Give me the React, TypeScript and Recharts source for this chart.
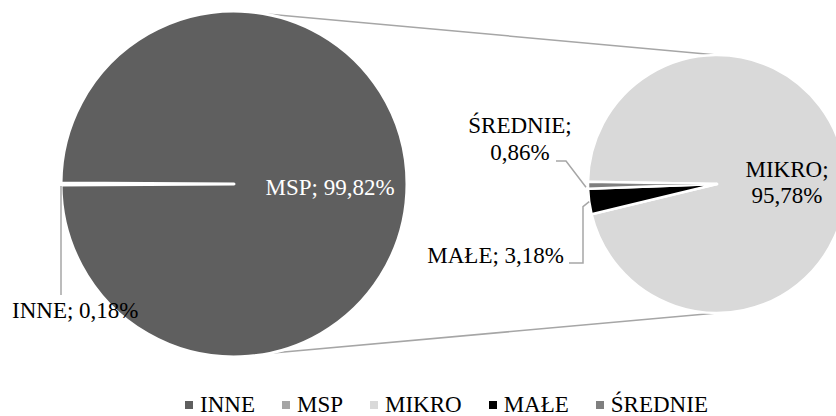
import { PieChart, Pie, Cell, Legend, Customized } from "recharts";

// left pie: INNE vs MSP, right pie: MSP broken down
const INNER_NAMES = ["INNE", "MSP"];
const INNER_VALUES = [0.18, 99.82];
const INNER_COLORS = ["#5f5f5f", "#5f5f5f"];

const DETAIL_NAMES = ["MIKRO", "MAŁE", "ŚREDNIE"];
const DETAIL_VALUES = [95.78, 3.18, 0.86];
const DETAIL_COLORS = ["#d9d9d9", "#000000", "#7f7f7f"];

const LEGEND_NAMES = ["INNE", "MSP", "MIKRO", "MAŁE", "ŚREDNIE"];
const LEGEND_COLORS = ["#5f5f5f", "#a5a5a5", "#d9d9d9", "#000000", "#7f7f7f"];

const W = 836;
const H = 416;
const LEFT = { cx: 234, cy: 184, r: 173 };
const RIGHT = { cx: 717, cy: 184, r: 129 };
const FONT = "'Liberation Serif', 'Times New Roman', serif";
const FS = 23;
const LEADER = "#a6a6a6";

const innerData = INNER_NAMES.map((name, i) => ({ name, value: INNER_VALUES[i] }));
const detailData = DETAIL_NAMES.map((name, i) => ({ name, value: DETAIL_VALUES[i] }));

const RAD = Math.PI / 180;
const edge = (cx: number, cy: number, r: number, a: number) => [
  cx + r * Math.cos(-a * RAD),
  cy + r * Math.sin(-a * RAD),
];
const fmt = (v: number) => v.toFixed(2).replace(".", ",") + "%";
const txt = { fontFamily: FONT, fontSize: FS };

const innerLabel = (p: any) => {
  const { cx, cy, outerRadius: r, midAngle, index } = p;
  const name = INNER_NAMES[index];
  const value = INNER_VALUES[index];
  if (name === "MSP") {
    return (
      <text x={cx + r * 0.555} y={cy + 11} textAnchor="middle" fill="#ffffff" style={txt}>
        {`${name}; ${fmt(value)}`}
      </text>
    );
  }
  const [ex, ey] = edge(cx, cy, r, midAngle);
  return (
    <g>
      <path d={`M${ex},${ey + 2}L${ex},${cy + 111}`} stroke={LEADER} strokeWidth={1.5} fill="none" />
      <text x={ex - 49} y={cy + 134} fill="#000" style={txt}>
        {`${name}; ${fmt(value)}`}
      </text>
    </g>
  );
};

const detailLabel = (p: any) => {
  const { cx, cy, outerRadius: r, midAngle, index } = p;
  const name = DETAIL_NAMES[index];
  const value = DETAIL_VALUES[index];
  const [ex, ey] = edge(cx, cy, r, midAngle);
  if (name === "MIKRO") {
    return (
      <text x={cx + 70} y={cy - 7} textAnchor="middle" fill="#000" style={txt}>
        <tspan x={cx + 70}>{`${name};`}</tspan>
        <tspan x={cx + 70} dy={26}>{fmt(value)}</tspan>
      </text>
    );
  }
  if (name === "MAŁE") {
    return (
      <g>
        <path
          d={`M${ex},${ey}L${cx - 134},${ey + 5}L${cx - 134},${cy + 79}L${cx - 148},${cy + 79}`}
          stroke={LEADER}
          strokeWidth={1.5}
          fill="none"
        />
        <text x={cx - 153} y={cy + 79} textAnchor="end" fill="#000" style={txt}>
          {`${name}; ${fmt(value)}`}
        </text>
      </g>
    );
  }
  return (
    <g>
      <path
        d={`M${ex - 2},${ey + 2}L${cx - 151},${cy - 23}L${cx - 161},${cy - 23}`}
        stroke={LEADER}
        strokeWidth={1.5}
        fill="none"
      />
      <text x={cx - 197} y={cy - 51} textAnchor="middle" fill="#000" style={txt}>
        <tspan x={cx - 197}>{`${name};`}</tspan>
        <tspan x={cx - 197} dy={27}>{fmt(value)}</tspan>
      </text>
    </g>
  );
};

const Connectors = () => {
  const [x1, y1] = edge(LEFT.cx, LEFT.cy, LEFT.r, 80);
  const [x2, y2] = edge(RIGHT.cx, RIGHT.cy, RIGHT.r, 90);
  const [x3, y3] = edge(LEFT.cx, LEFT.cy, LEFT.r, -78);
  const [x4, y4] = edge(RIGHT.cx, RIGHT.cy, RIGHT.r, -90);
  return (
    <g>
      <line x1={x1} y1={y1} x2={x2} y2={y2} stroke={LEADER} strokeWidth={1.5} />
      <line x1={x3} y1={y3} x2={x4} y2={y4} stroke={LEADER} strokeWidth={1.5} />
    </g>
  );
};

const renderLegend = () => (
  <div
    style={{
      display: "flex",
      paddingLeft: 185,
      fontFamily: FONT,
      fontSize: FS,
      lineHeight: "26px",
      color: "#000",
    }}
  >
    {LEGEND_NAMES.map((n, i) => (
      <div key={n} style={{ display: "flex", alignItems: "center", marginRight: 27 }}>
        <span
          style={{
            display: "inline-block",
            width: 8,
            height: 8,
            background: LEGEND_COLORS[i],
            marginRight: 7,
          }}
        />
        {n}
      </div>
    ))}
  </div>
);

export default function App() {
  return (
    <div
      style={{
        position: "absolute",
        left: 0,
        top: 0,
        width: W,
        height: H,
        overflow: "hidden",
        background: "#fff",
      }}
    >
      <PieChart width={W} height={H} margin={{ top: 0, right: 0, bottom: 0, left: 0 }}>
        <Customized component={Connectors} />
        <Pie
          data={innerData}
          dataKey="value"
          nameKey="name"
          cx={LEFT.cx}
          cy={LEFT.cy}
          outerRadius={LEFT.r}
          startAngle={180.3}
          endAngle={-179.7}
          stroke="#ffffff"
          strokeWidth={3}
          strokeLinejoin="round"
          label={innerLabel}
          labelLine={false}
          isAnimationActive={false}
        >
          {innerData.map((d, i) => (
            <Cell key={d.name} fill={INNER_COLORS[i]} />
          ))}
        </Pie>
        <Pie
          data={detailData}
          dataKey="value"
          nameKey="name"
          cx={RIGHT.cx}
          cy={RIGHT.cy}
          outerRadius={RIGHT.r}
          startAngle={179}
          endAngle={-181}
          stroke="#ffffff"
          strokeWidth={2.5}
          strokeLinejoin="round"
          label={detailLabel}
          labelLine={false}
          isAnimationActive={false}
        >
          {detailData.map((d, i) => (
            <Cell key={d.name} fill={DETAIL_COLORS[i]} />
          ))}
        </Pie>
        <Legend
          verticalAlign="bottom"
          content={renderLegend}
          wrapperStyle={{ position: "absolute", left: 0, top: 392, width: W, height: 26 }}
        />
      </PieChart>
    </div>
  );
}
